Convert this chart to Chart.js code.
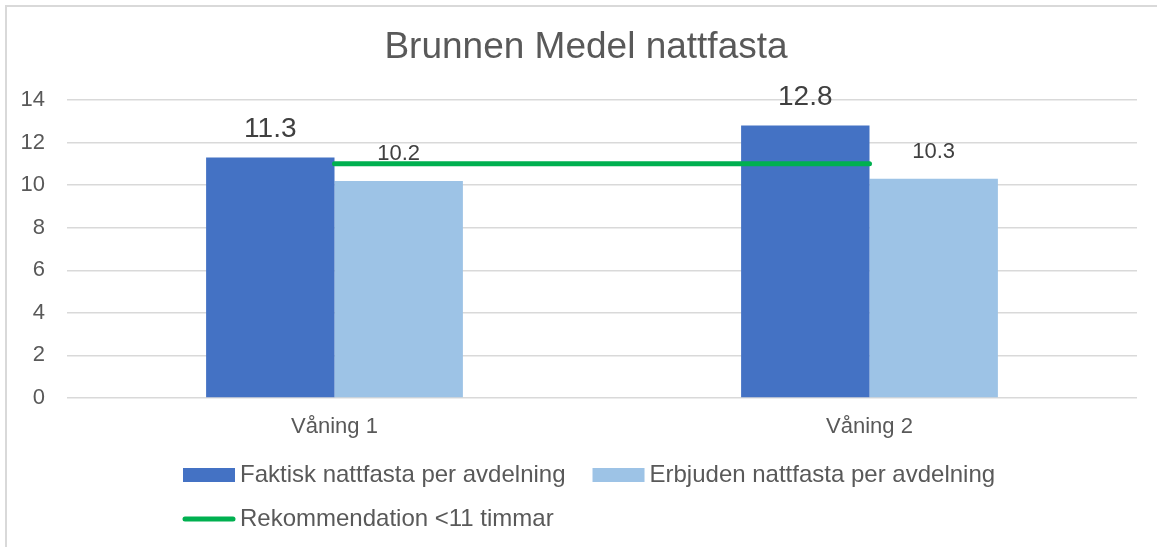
<!DOCTYPE html>
<html>
<head>
<meta charset="utf-8">
<script src="https://cdn.jsdelivr.net/npm/chart.js@4/dist/chart.umd.min.js"></script>
<style>
  html, body { margin: 0; padding: 0; background: #fff; overflow: hidden; }
  #wrap { position: relative; width: 1157px; height: 547px; }
  #frame { position: absolute; left: 5px; top: 5px; width: 1200px; height: 600px; border: 2px solid #d9d9d9; box-sizing: border-box; }
  canvas { position: absolute; left: 0; top: 0; }
</style>
</head>
<body>
<div id="wrap">
  <div id="frame"></div>
  <canvas id="myChart" width="1157" height="547"></canvas>
</div>
<script>
const categories = ['Våning 1', 'Våning 2'];
const faktisk = [11.3, 12.8];
const erbjuden = [10.2, 10.3];
const rekommendation = [11, 11];
const seriesNames = ['Faktisk nattfasta per avdelning', 'Erbjuden nattfasta per avdelning', 'Rekommendation <11 timmar'];
const chartTitle = 'Brunnen Medel nattfasta';

const FONT = '"Liberation Sans", Arial, sans-serif';
const GREY = '#595959';

// title sits a bit right of the canvas centre in the original
const titleText = {
  id: 'titleText',
  afterDraw(chart) {
    const ctx = chart.ctx;
    ctx.save();
    ctx.font = '37px ' + FONT;
    ctx.fillStyle = GREY;
    ctx.textAlign = 'center';
    ctx.textBaseline = 'middle';
    ctx.fillText(chartTitle, 586, 48);
    ctx.restore();
  }
};

// value labels above the bars
const barLabels = {
  id: 'barLabels',
  afterDatasetsDraw(chart) {
    const ctx = chart.ctx;
    ctx.save();
    ctx.textAlign = 'center';
    ctx.textBaseline = 'middle';
    ctx.fillStyle = '#404040';
    [0, 1].forEach(i => {
      const meta = chart.getDatasetMeta(i);
      const size = i === 0 ? 28 : 22;
      ctx.font = size + 'px ' + FONT;
      meta.data.forEach((bar, j) => {
        const v = chart.data.datasets[i].data[j];
        ctx.fillText(v.toFixed(1), bar.x, bar.y - (i === 0 ? 28 : 27));
      });
    });
    ctx.restore();
  }
};

// legend at the bottom, two rows like the original
const bottomLegend = {
  id: 'bottomLegend',
  afterDraw(chart) {
    const ctx = chart.ctx;
    const ds = chart.data.datasets;
    ctx.save();
    ctx.font = '24px ' + FONT;
    ctx.textBaseline = 'middle';
    ctx.textAlign = 'left';
    let x = 183;
    let y = 475;
    [0, 1].forEach(i => {
      ctx.fillStyle = ds[i].backgroundColor;
      ctx.fillRect(x, y - 7, 52, 14);
      ctx.fillStyle = GREY;
      ctx.fillText(ds[i].label, x + 57, y);
      x += 57 + ctx.measureText(ds[i].label).width + 27;
    });
    x = 183;
    y = 519;
    ctx.strokeStyle = ds[2].borderColor;
    ctx.lineWidth = 5;
    ctx.lineCap = 'round';
    ctx.beginPath();
    ctx.moveTo(x + 2, y);
    ctx.lineTo(x + 50, y);
    ctx.stroke();
    ctx.fillStyle = GREY;
    ctx.fillText(ds[2].label, x + 57, y);
    ctx.restore();
  }
};

const ctx1 = document.getElementById('myChart');
new Chart(ctx1, {
  data: {
    labels: categories,
    datasets: [
      {
        type: 'bar',
        label: seriesNames[0],
        data: faktisk,
        backgroundColor: '#4472C4',
        categoryPercentage: 0.48,
        barPercentage: 1,
        order: 2
      },
      {
        type: 'bar',
        label: seriesNames[1],
        data: erbjuden,
        backgroundColor: '#9DC3E6',
        categoryPercentage: 0.48,
        barPercentage: 1,
        order: 2
      },
      {
        type: 'line',
        label: seriesNames[2],
        data: rekommendation,
        borderColor: '#00B050',
        backgroundColor: '#00B050',
        borderWidth: 5,
        borderCapStyle: 'round',
        pointRadius: 0,
        order: 1
      }
    ]
  },
  options: {
    responsive: false,
    animation: false,
    layout: { padding: { left: 0, right: 20, top: 100, bottom: 100 } },
    plugins: {
      legend: { display: false },
      tooltip: { enabled: false },
      title: { display: false }
    },
    scales: {
      x: {
        grid: { display: false, drawTicks: false },
        border: { display: false },
        ticks: { color: GREY, font: { family: FONT, size: 22 }, padding: 16 },
        afterFit(scale) { scale.height = 49; }
      },
      y: {
        min: 0,
        max: 14,
        grid: { color: '#d9d9d9', lineWidth: 1.5, drawTicks: false },
        border: { display: false },
        ticks: { stepSize: 2, color: GREY, font: { family: FONT, size: 22 }, padding: 22 },
        afterFit(scale) { scale.width = 67; }
      }
    }
  },
  plugins: [titleText, barLabels, bottomLegend]
});
</script>
</body>
</html>
